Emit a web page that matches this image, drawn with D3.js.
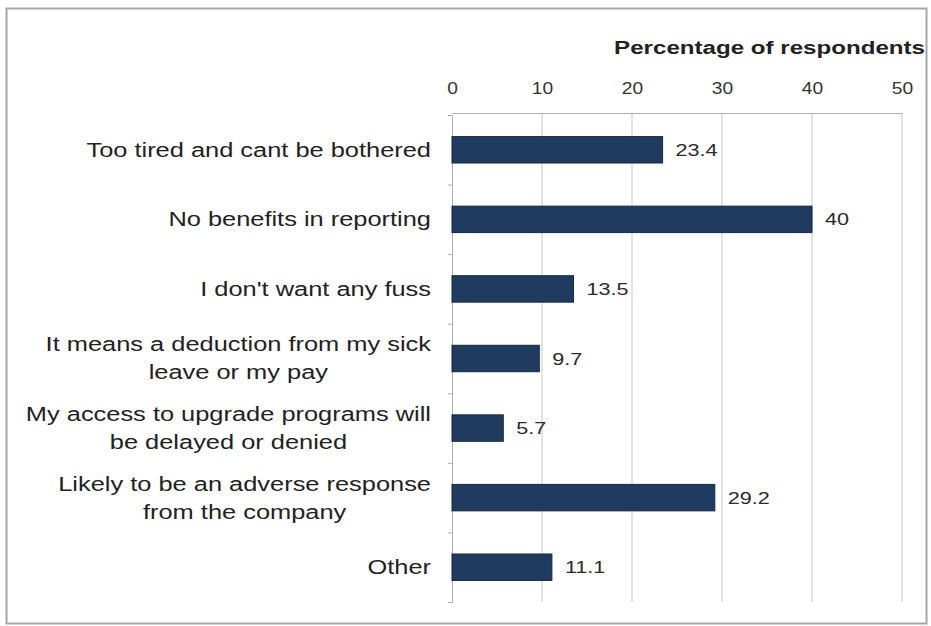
<!DOCTYPE html>
<html><head><meta charset="utf-8">
<script src="https://cdn.jsdelivr.net/npm/d3@7"></script>
<style>body{margin:0;background:#fff;} text{font-family:Arial,"Liberation Sans",sans-serif;}</style>
</head><body><svg id="c" width="931" height="626"></svg>
<script>
const categories = [
  ["Too tired and cant be bothered"],
  ["No benefits in reporting"],
  ["I don't want any fuss"],
  ["It means a deduction from my sick","leave or my pay"],
  ["My access to upgrade programs will","be delayed or denied"],
  ["Likely to be an adverse response","from the company"],
  ["Other"]
];
const values = [23.4, 40, 13.5, 9.7, 5.7, 29.2, 11.1];
const tickValues = [0, 10, 20, 30, 40, 50];
const axisTitle = "Percentage of respondents";

const SX = 1.27; // horizontal stretch of the reference's text
const svg = d3.select("#c");
svg.append("rect").attr("x",6.5).attr("y",8.5).attr("width",920).attr("height",615)
  .attr("fill","#fff").attr("stroke","#a6a6a6").attr("stroke-width",2);

const x = d3.scaleLinear().domain([0,50]).range([452,902]);
const y = d3.scaleBand().domain(d3.range(categories.length)).range([115,602]).paddingInner(0.62).paddingOuter(0.31);

// gridlines
svg.append("g").selectAll("line").data(tickValues.slice(1)).join("line")
  .attr("x1",d=>x(d)).attr("x2",d=>x(d)).attr("y1",113).attr("y2",602)
  .attr("stroke","#d0d0d0").attr("stroke-width",1.2);

// top axis
const ax = svg.append("g").attr("transform","translate(0,113)")
  .call(d3.axisTop(x).tickValues(tickValues).tickSize(0).tickPadding(18));
ax.select(".domain").attr("stroke","#b0b0b0");
ax.selectAll(".tick text").attr("font-size",16).attr("fill","#333").attr("font-family","Arial")
  .attr("transform",`scale(1.2,1)`).attr("x",0).attr("dy","0em").attr("y",-19);

// left axis
const yl = d3.scaleLinear().domain([0,categories.length]).range([115,602]);
const la = svg.append("g").attr("transform","translate(452,0)")
  .call(d3.axisLeft(yl).tickValues(d3.range(categories.length+1)).tickSize(4).tickFormat(""));
la.select(".domain").attr("stroke","#b0b0b0");
la.selectAll(".tick line").attr("stroke","#b0b0b0");

// title
svg.append("text").attr("transform","translate(925,54) scale(1.27,1)").attr("text-anchor","end")
  .attr("font-size",19).attr("font-weight","bold").attr("fill","#222").text(axisTitle);

// bars
svg.append("g").selectAll("rect").data(values).join("rect")
  .attr("x",x(0)).attr("y",(d,i)=>y(i)).attr("width",d=>x(d)-x(0)).attr("height",y.bandwidth())
  .attr("fill","#1f3b60").attr("stroke","#152a45").attr("stroke-width",1);

// value labels
svg.append("g").selectAll("text").data(values).join("text")
  .attr("transform",(d,i)=>`translate(${x(d)+13},${y(i)+y.bandwidth()/2+6}) scale(${SX},1)`)
  .attr("font-size",17).attr("fill","#2a2a2a").text(d=>d);

// category labels
const cg = svg.append("g");
categories.forEach((lines,i)=>{
  const cy = y(i)+y.bandwidth()/2;
  const g = cg.append("g");
  const t = g.append("text").attr("font-size",20).attr("fill","#222").attr("text-anchor","middle");
  const lh = 28;
  lines.forEach((l,j)=>{
    t.append("tspan").attr("x",0).attr("y",cy - (lines.length-1)*lh/2 + j*lh + 7).text(l);
  });
  let w = 0;
  t.selectAll("tspan").each(function(){ w = Math.max(w, this.getComputedTextLength()); });
  g.attr("transform",`translate(${431 - w*SX/2},0) scale(${SX},1)`);
});
</script></body></html>
